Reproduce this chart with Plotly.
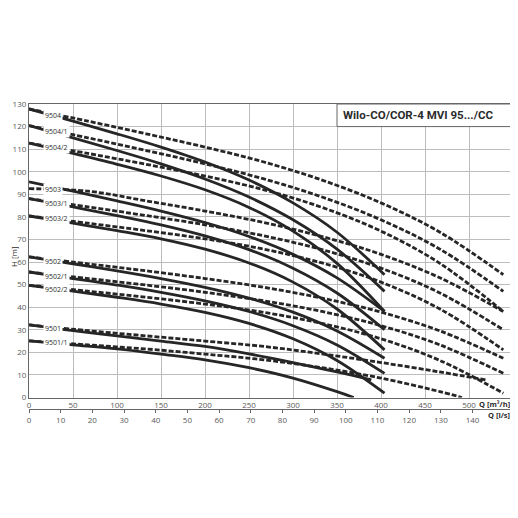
import plotly.graph_objects as go

# pump types, top to bottom
PUMPS = ['9504', '9504/1', '9504/2', '9503', '9503/1', '9503/2',
         '9502', '9502/1', '9502/2', '9501', '9501/1']

# flow grid [m³/h]: solid curves (3 pumps) and dashed curves (4 pumps)
Q_SOLID = [0, 50, 100, 150, 200, 250, 300, 350]
Q_DASH = [0, 67, 133, 200, 267, 333, 400, 467]
# flow at the end of each curve [m³/h]
Q_SOLID_END = [404, 404, 404, 404, 404, 404, 404, 404, 404, 389, 369]
Q_DASH_END = [539, 539, 539, 539, 539, 539, 539, 539, 539, 519, 492]

# head [m] read on the grid points, last value = end of curve
H_9504 = [127.8, 122.4, 116.8, 110.9, 104.3, 96.3, 86.2, 73.2, 54.4]
H_9504_1 = [120.4, 115.0, 109.4, 103.5, 96.8, 88.8, 78.7, 65.7, 47.0]
H_9504_2 = [112.7, 108.1, 103.3, 98.1, 92.0, 84.2, 73.7, 59.4, 38.1]
H_9503 = [95.5, 91.4, 87.1, 82.6, 77.5, 71.3, 63.4, 53.0, 38.1]
H_9503_1 = [88.1, 84.4, 80.6, 76.5, 71.6, 65.5, 57.3, 46.3, 30.0]
H_9503_2 = [80.4, 77.2, 73.9, 70.3, 65.7, 59.6, 51.1, 39.2, 21.1]
H_9502 = [62.3, 59.2, 56.1, 52.7, 48.8, 44.0, 37.8, 29.5, 17.4]
H_9502_1 = [55.6, 52.7, 49.8, 46.6, 42.8, 38.1, 31.8, 23.3, 10.7]
H_9502_2 = [49.7, 47.1, 44.4, 41.4, 37.7, 32.8, 26.0, 16.4, 1.9]
H_9501 = [32.2, 29.6, 27.3, 25.0, 22.6, 19.3, 15.5, 11.3, 7.8]
H_9501_1 = [25.1, 23.3, 21.5, 19.2, 16.7, 13.2, 8.6, 2.6, 0.0]
HEADS = [H_9504, H_9504_1, H_9504_2, H_9503, H_9503_1, H_9503_2,
         H_9502, H_9502_1, H_9502_2, H_9501, H_9501_1]

# head where the dashed curve starts at Q=0
H_DASH_START = [127.8, 120.4, 112.7, 92.5, 88.1, 80.4, 62.3, 55.6, 49.7, 32.2, 25.1]
# height of the curve labels
LABEL_H = [125.0, 118.0, 110.8, 92.0, 86.0, 79.2, 60.4, 53.7, 47.8, 30.4, 24.5]

Q_TICKS = [0, 50, 100, 150, 200, 250, 300, 350, 400, 450, 500]
LS_TICKS = [0, 10, 20, 30, 40, 50, 60, 70, 80, 90, 100, 110, 120, 130, 140]
H_TICKS = [0, 10, 20, 30, 40, 50, 60, 70, 80, 90, 100, 110, 120, 130]

TITLE = 'Wilo-CO/COR-4 MVI 95.../CC'

LINE = '#262626'
GRID = '#bdbdbd'
FRAME = '#666666'
TICK = '#5a5a5a'
TEXT = '#2b2b2b'
FONT = 'Open Sans'

fig = go.Figure()

for name, heads, q3_end, q4_end, h_dash0 in zip(PUMPS, HEADS, Q_SOLID_END, Q_DASH_END, H_DASH_START):
    fig.add_trace(go.Scatter(
        x=Q_SOLID + [q3_end], y=heads, mode='lines', name=name,
        line=dict(color=LINE, width=2.8, shape='spline', smoothing=1),
        showlegend=False, hoverinfo='skip'))
    fig.add_trace(go.Scatter(
        x=Q_DASH + [q4_end], y=[h_dash0] + heads[1:], mode='lines', name=name,
        line=dict(color=LINE, width=2.8, dash='5px,2px', shape='spline', smoothing=1),
        showlegend=False, hoverinfo='skip'))

# dummy trace so the l/s axis is drawn
fig.add_trace(go.Scatter(x=[], y=[], xaxis='x2', showlegend=False))

annotations = []
for name, h in zip(PUMPS, LABEL_H):
    annotations.append(dict(
        text=name, x=15.5, y=h, xref='x', yref='y',
        xanchor='left', yanchor='middle', showarrow=False,
        bgcolor='white', borderpad=1,
        font=dict(family=FONT, size=7, color=TEXT)))

annotations += [
    dict(text='<b>' + TITLE + '</b>', x=355, y=125, xref='x', yref='y',
         xanchor='left', yanchor='middle', showarrow=False,
         font=dict(family='Roboto', size=11.5, color=TEXT)),
    dict(text='H [m]', x=-0.032, y=0.5, xref='paper', yref='paper', textangle=-90,
         xanchor='center', yanchor='middle', showarrow=False,
         font=dict(family=FONT, size=8, color=TEXT)),
    dict(text='<b>Q [m³/h]</b>', x=0.998, y=0.016, xref='paper', yref='paper',
         xanchor='right', yanchor='middle', showarrow=False,
         font=dict(family=FONT, size=7.5, color=TEXT)),
    dict(text='<b>Q [l/s]</b>', x=0.998, y=-0.02, xref='paper', yref='paper',
         xanchor='right', yanchor='middle', showarrow=False,
         font=dict(family=FONT, size=7.5, color=TEXT)),
]

# the page body adds 8px on the left and top, margins are set to compensate
fig.update_layout(
    width=518, height=518,
    margin=dict(l=21, r=13, t=96, b=117),
    paper_bgcolor='white', plot_bgcolor='white',
    annotations=annotations,
    shapes=[dict(type='rect', x0=350, x1=550, y0=120, y1=130, xref='x', yref='y',
                 fillcolor='white', line=dict(color=FRAME, width=1), layer='above')],
    xaxis=dict(
        range=[0, 550], tickvals=Q_TICKS, showgrid=True, gridcolor=GRID, gridwidth=1,
        zeroline=False, showline=True, linecolor=FRAME, linewidth=1.2, mirror=True,
        ticks='', tickfont=dict(family=FONT, size=8, color=TICK), anchor='y',
        automargin=False),
    xaxis2=dict(
        range=[0, 550 / 3.6], tickvals=LS_TICKS, overlaying='x', anchor='free',
        position=0, side='bottom', showgrid=False, zeroline=False,
        showline=True, linecolor=FRAME, linewidth=1.2,
        ticks='outside', ticklen=3, tickcolor=FRAME,
        tickfont=dict(family=FONT, size=8, color=TICK), automargin=False),
    yaxis=dict(
        range=[0, 130], tickvals=H_TICKS, domain=[0.0377, 1],
        showgrid=True, gridcolor=GRID, gridwidth=1, zeroline=False,
        showline=True, linecolor=FRAME, linewidth=1.2, mirror=True,
        ticks='', tickfont=dict(family=FONT, size=8, color=TICK),
        automargin=False),
)

fig.write_html("out.html")
